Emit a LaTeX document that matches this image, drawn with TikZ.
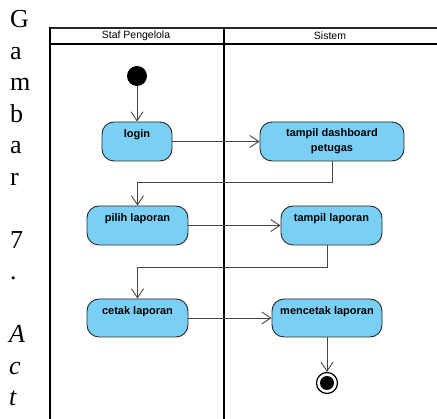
\documentclass[tikz,border=0pt]{standalone}
\usepackage{fontspec}
\setmainfont{Liberation Serif}
\setsansfont{Liberation Sans}
\usetikzlibrary{arrows.meta}
\definecolor{actfill}{RGB}{122,207,245}
\definecolor{actdraw}{RGB}{40,40,40}
\definecolor{flow}{RGB}{70,70,70}
\begin{document}
\begin{tikzpicture}[x=1pt,y=-1pt,
  act/.style={draw=actdraw,line width=0.9pt,fill=actfill,rounded corners=12pt,
    minimum height=39pt,inner sep=0pt,align=center,
    font=\sffamily\bfseries\fontsize{11}{15}\selectfont},
  flowline/.style={draw=flow,line width=0.9pt,-{Straight Barb[length=9pt,width=12pt]}},
  lane/.style={line width=2pt,black},
  hdr/.style={font=\sffamily\fontsize{10.5}{11}\selectfont,inner sep=0pt},
  capletter/.style={anchor=base west,inner sep=0pt,font=\fontsize{26}{26}\selectfont}]
\useasboundingbox (0,0) rectangle (437,419);
% side caption letters
\foreach \t/\k [count=\i] in {G/0,a/1,m/2,b/3,a/4,r/5,7/7,./8}
  \node[capletter] (c\i) at (10,28+31.5*\k) {\t};
\foreach \t/\k [count=\i] in {A/10,c/11,t/12}
  \node[capletter,font=\fontsize{26}{26}\selectfont\itshape] (ci\i) at (9,28+31.5*\k) {\t};
% swimlanes
\draw[line width=1.3pt,black!85] (50,28) -- (437,28);
\draw[lane] (50,44) -- (437,44);
\draw[lane] (50,27.5) -- (50,419);
\draw[lane] (224,27.5) -- (224,419);
\node[hdr] (h1) at (136,36) {Staf Pengelola};
\node[hdr] (h2) at (330,36) {Sistem};
% nodes
\node[circle,fill=black,minimum size=20pt,inner sep=0pt] (start) at (137,76) {};
\node[act,minimum width=70pt] (login) at (137,141.5) {login\\\mbox{}};
\node[act,minimum width=144pt] (tdash) at (332,141.5) {tampil dashboard\\petugas};
\node[act,minimum width=101pt] (pilih) at (137.5,225.5) {pilih laporan\\\mbox{}};
\node[act,minimum width=101pt] (tlap) at (331.5,225.5) {tampil laporan\\\mbox{}};
\node[act,minimum width=101pt,minimum height=38pt] (cetak) at (137.5,318) {cetak laporan\\\mbox{}};
\node[act,minimum width=110pt,minimum height=38pt] (mcet) at (327,318) {mencetak laporan\\\mbox{}};
\node[circle,draw=black,line width=1.2pt,minimum size=21pt,inner sep=0pt] (end) at (327,383) {};
\fill[black] (end.center) circle (7pt);
% flows
\draw[flowline] (start) -- (login);
\draw[flowline] (login) -- (tdash);
\draw[flowline] (tdash.south) -- (tdash.south |- 0,182) -| (pilih.north);
\draw[flowline] (pilih) -- (tlap);
\draw[flowline] (tlap.south -| 327,0) -- (327,267) -| (cetak.north);
\draw[flowline] (cetak) -- (mcet);
\draw[flowline] (mcet) -- (end);
\end{tikzpicture}
\end{document}
